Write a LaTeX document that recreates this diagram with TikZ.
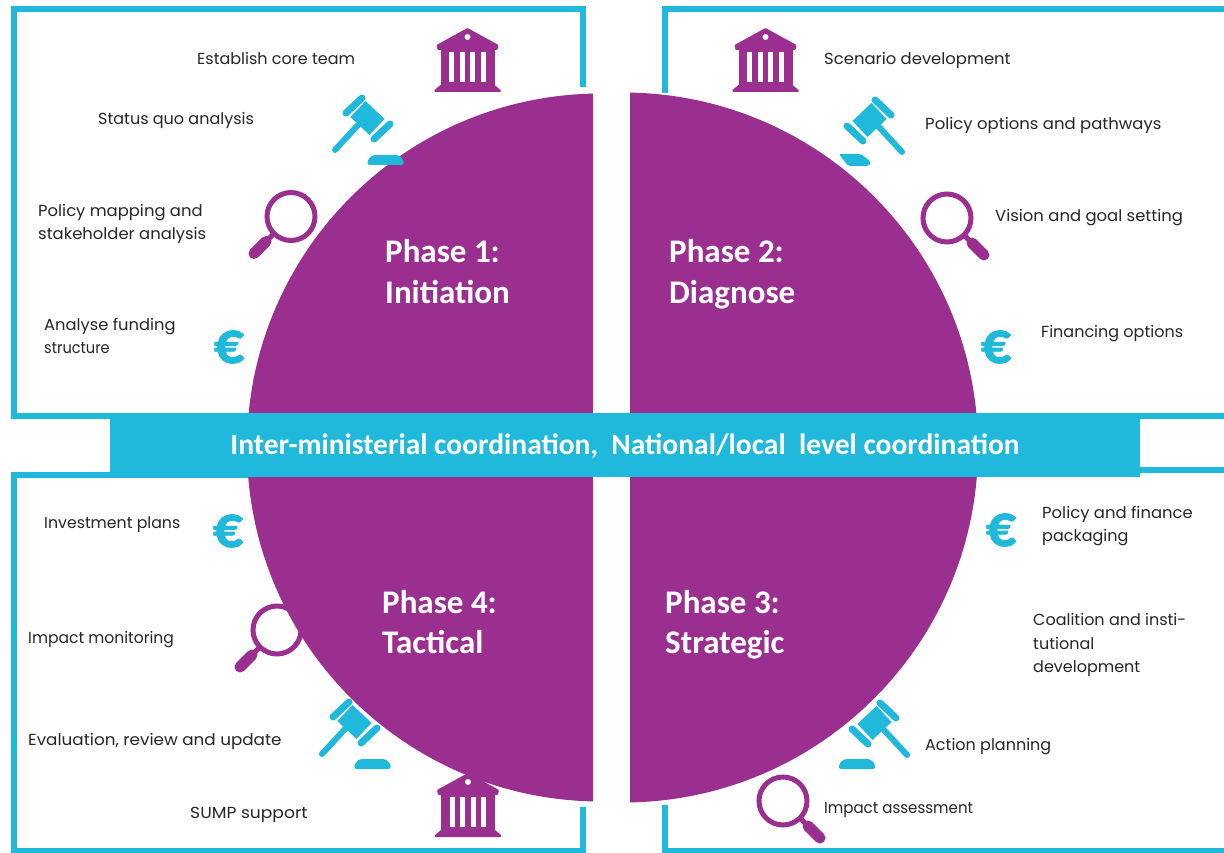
\documentclass[tikz,border=0pt]{standalone}
\usepackage{graphicx}
\usepackage{fontspec}
\setmainfont{Poppins}
\newfontfamily\headfont{Carlito}
\newfontfamily\eurofont[FakeBold=1.2]{Carlito Bold}
\newcommand{\sx}[2]{\scalebox{#1}[1]{#2}}
\definecolor{phasepurple}{HTML}{9B2F8F}
\definecolor{framecyan}{HTML}{20B8DB}
\tikzset{
  framebox/.style={draw=framecyan,line width=6pt,line join=miter},
  note/.style={anchor=west,inner sep=0pt,align=left,text=black!85,font=\fontsize{16}{23.5}\selectfont},
  phase/.style={anchor=west,inner sep=0pt,text height=22pt,text depth=0pt,text=white,font=\headfont\bfseries\fontsize{33}{36}\selectfont},
  euro/.style={inner sep=0pt,text=framecyan,font=\eurofont\fontsize{60}{60}\selectfont},
  bannerfont/.style={font=\headfont\bfseries\fontsize{29.5}{32}\selectfont},
  bankicon/.pic={
    \fill[phasepurple,rounded corners=1pt] (0,-32) -- (31,-15) -- (30,-10) -- (-30,-10) -- (-31,-15) -- cycle;
    \fill[phasepurple] (-27,-11) rectangle (27,26);
    \fill[phasepurple] (-27,25) -- (27,25) -- (33,30) -- (33,32) -- (-33,32) -- (-33,30) -- cycle;
    \fill[white] (0,-23) circle (3);
    \foreach \cx in {-15.75,-5.25,5.25,15.75} \fill[white] (\cx-2.6,-8) rectangle (\cx+2.6,22);
  },
  gavelicon/.pic={
    \draw[framecyan,line width=6pt,line cap=round] (-9,7) -- (-32,32);
    \draw[framecyan,line width=22pt] (-9,-9) -- (10,9);
    \draw[framecyan,line width=7pt,line cap=round] (-21,-5) -- (-5,-20);
    \draw[framecyan,line width=7pt,line cap=round] (7,21) -- (23,6);
  },
  gavelbase/.pic={
    \fill[framecyan,rounded corners=2pt] (-13,-5) -- (13,-5) -- (18,0) -- (18,5) -- (-18,5) -- (-18,0) -- cycle;
  },
  slantbase/.pic={
    \fill[framecyan,rounded corners=2pt] (-16,-6) -- (6,-6) -- (16,2) -- (14,6) -- (-7,6) -- cycle;
  },
  lensicon/.pic={
    \draw[phasepurple,line width=5pt,fill=white] (0,0) circle (24);
    \draw[phasepurple,line width=5pt] (-17,17) -- (-23,23);
    \draw[phasepurple,line width=11pt,line cap=round] (-25,25) -- (-37,37);
  }
}
\begin{document}
\begin{tikzpicture}[x=1pt,y=-1pt]
\useasboundingbox[fill=white] (0,0) rectangle (1224,853);
% frames
\draw[framebox] (583,87) -- (583,9.5) -- (14,9.5) -- (14,416) -- (250,416);
\draw[framebox] (250,474.5) -- (14,474.5) -- (14,851) -- (582.5,851) -- (582.5,807);
\draw[framebox] (665,93) -- (665,9.5) -- (1230,9.5);
\draw[framebox] (975,416) -- (1230,416);
\draw[framebox] (665,805) -- (665,851) -- (1230,851);
\draw[framebox] (1130,469.5) -- (1230,469.5);
% lens that the disc overlaps
\pic at (277,630) {lensicon};
% discs
\begin{scope}
  \clip (200,60) rectangle (593,830);
  \fill[phasepurple] (601,447.5) circle (354);
\end{scope}
\begin{scope}
  \clip (630,60) rectangle (1000,830);
  \fill[phasepurple] (623,447.5) circle (355);
\end{scope}
% banner
\node[fill=framecyan,minimum width=1030pt,minimum height=64pt,inner sep=0pt] (banner) at (625,445) {};
\node[inner sep=0pt,text=white,bannerfont] (bannertext) at (625,446) {Inter-ministerial coordination,\ \ National/local\ \ level coordination};
% phases
\node[phase] (p1a) at (385,252) {Phase 1:};
\node[phase] (p1b) at (385,292) {Initiation};
\node[phase] (p2a) at (669,252) {Phase 2:};
\node[phase] (p2b) at (669,292) {Diagnose};
\node[phase] (p4a) at (382,602) {Phase 4:};
\node[phase] (p4b) at (382,642) {Tactical};
\node[phase] (p3a) at (665,602) {Phase 3:};
\node[phase] (p3b) at (665,642) {Strategic};
% icons
\pic at (467.5,60) {bankicon};
\pic at (765.5,60) {bankicon};
\pic at (468,805) {bankicon};
\pic at (367,118) {gavelicon};
\pic at (385.5,160) {gavelbase};
\pic[xscale=-1] at (870,120) {gavelicon};
\pic at (855,160) {slantbase};
\pic at (354,722) {gavelicon};
\pic at (372.5,764) {gavelbase};
\pic[xscale=-1] at (875,723) {gavelicon};
\pic at (857,764) {gavelbase};
\pic at (291,216.5) {lensicon};
\pic[xscale=-1] at (947,218) {lensicon};
\pic[xscale=-1] at (783,801) {lensicon};
\node[euro] (e1) at (229,347) {€};
\node[euro] (e2) at (996,347) {€};
\node[euro] (e4) at (228,531) {€};
\node[euro] (e3) at (1001,530) {€};
% notes
\node[note] (n1) at (197,58.5) {Establish core team};
\node[note] (n2) at (98,120) {Status quo analysis};
\node[note] (n3) at (38,224) {\sx{1.025}{Policy mapping and}\\\sx{1.025}{stakeholder analysis}};
\node[note] (n4) at (44,336) {\sx{1.02}{Analyse funding}\\\sx{.91}{structure}};
\node[note] (n5) at (824,60) {\sx{1.027}{Scenario development}};
\node[note] (n6) at (925,125) {\sx{1.03}{Policy options and pathways}};
\node[note] (n7) at (995,218) {\sx{1.027}{Vision and goal setting}};
\node[note] (n8) at (1041,334) {Financing options};
\node[note] (n9) at (1042,526) {\sx{1.027}{Policy and finance}\\packaging};
\node[note] (n10) at (1033,645) {Coalition and insti-\\tutional\\development};
\node[note] (n11) at (925,747) {Action planning};
\node[note] (n12) at (824,810) {\sx{.94}{Impact assessment}};
\node[note] (n13) at (44,525) {\sx{.985}{Investment plans}};
\node[note] (n14) at (28,640) {\sx{.973}{Impact monitoring}};
\node[note] (n15) at (28,741) {\sx{1.05}{Evaluation, review and update}};
\node[note] (n16) at (190,815) {\sx{1.07}{SUMP support}};
\end{tikzpicture}
\end{document}
